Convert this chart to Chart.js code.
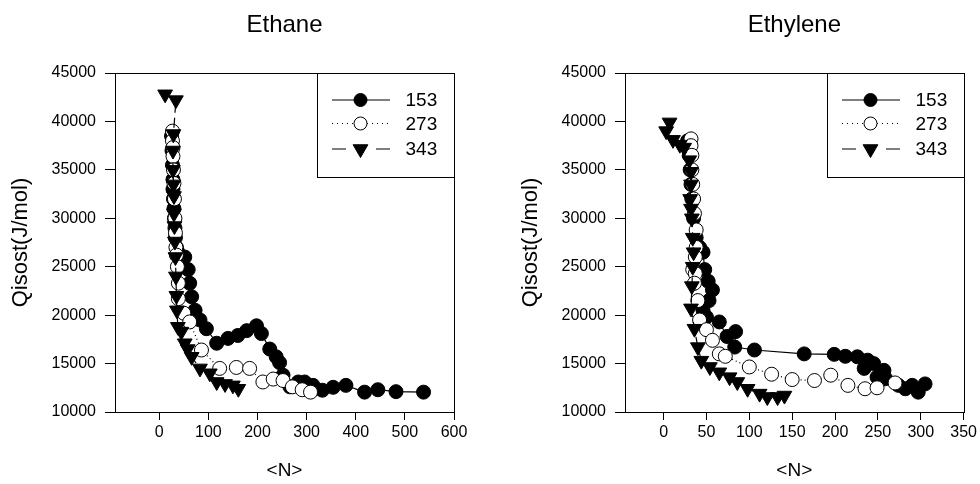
<!DOCTYPE html>
<html lang="en">
<head>
<meta charset="UTF-8">
<title>Qisost vs N</title>
<script src="https://cdn.jsdelivr.net/npm/chart.js"></script>
<style>
  body { margin: 0; background: #fff; }
  .wrap { position: relative; width: 980px; height: 484px; }
  .wrap canvas { position: absolute; top: 0; }
</style>
</head>
<body>
<div class="wrap">
  <canvas id="ethaneChart" width="490" height="484" style="left:0"></canvas>
  <canvas id="ethyleneChart" width="490" height="484" style="left:490px"></canvas>
</div>

<script>
// series labels (temperatures) and tick values
const seriesLabels = ['153', '273', '343'];
const qTicks = [10000, 15000, 20000, 25000, 30000, 35000, 40000, 45000];
const ethaneNTicks = [0, 100, 200, 300, 400, 500, 600];
const ethyleneNTicks = [0, 50, 100, 150, 200, 250, 300, 350];

// Ethane
const ethaneN153 = [25, 26, 27, 28, 28, 29, 30, 31, 32, 33, 35, 38, 52, 59, 62, 66, 73, 83, 96, 117, 140, 160, 178, 198, 208, 225, 238, 245, 252, 266, 283, 296, 313, 332, 354, 380, 418, 445, 482, 538];
const ethaneQ153 = [38500, 37000, 35500, 34000, 33000, 32000, 31000, 30000, 29000, 28000, 27000, 26500, 26000, 24700, 23300, 21900, 20500, 19500, 18600, 17100, 17600, 17900, 18400, 18900, 18100, 16500, 15700, 15100, 13800, 12600, 13100, 13100, 12750, 12250, 12550, 12750, 12050, 12300, 12100, 12050];
const ethaneN273 = [27, 27, 28, 28, 29, 30, 31, 32, 33, 34, 35, 37, 39, 39, 50, 62, 86, 123, 157, 184, 211, 232, 252, 271, 291, 308];
const ethaneQ273 = [39000, 38000, 37300, 36400, 35000, 33600, 32000, 30000, 28500, 27000, 26200, 25000, 23300, 21700, 20200, 19300, 16400, 14500, 14600, 14500, 13100, 13400, 13250, 12600, 12300, 12050];
const ethaneN343 = [12, 34, 29, 28, 28, 29, 30, 30, 31, 32, 33, 34, 35, 36, 38, 45, 52, 58, 66, 83, 103, 117, 134, 150, 161];
const ethaneQ343 = [42800, 42200, 38700, 37000, 35000, 33500, 32300, 30500, 29200, 27600, 26000, 24000, 22000, 20500, 18800, 18300, 17100, 16500, 15700, 14500, 14000, 13100, 12900, 12750, 12400];

// Ethylene
const ethyleneN153 = [28, 30, 31, 32, 33, 35, 38, 42, 46, 48, 52, 57, 53, 46, 50, 65, 74, 84, 83, 106, 164, 199, 212, 226, 238, 234, 245, 257, 249, 259, 274, 282, 290, 297, 305];
const ethyleneQ153 = [38000, 36500, 35000, 33500, 32000, 30000, 28000, 27000, 26500, 24700, 23500, 22600, 21500, 20500, 19800, 19300, 17800, 18300, 16700, 16400, 16000, 15950, 15750, 15700, 15350, 14500, 15000, 14300, 13600, 13450, 12750, 12400, 12750, 12050, 12900];
const ethyleneN273 = [32, 32, 33, 33, 34, 35, 36, 38, 38, 37, 34, 37, 36, 40, 42, 50, 57, 65, 72, 100, 126, 150, 176, 195, 215, 235, 249, 270];
const ethyleneQ273 = [38200, 37500, 36500, 35000, 33500, 32000, 30500, 28800, 27000, 26000, 24700, 24300, 23300, 21500, 19500, 18500, 17400, 16000, 15750, 14650, 13900, 13350, 13250, 13800, 12750, 12400, 12500, 13000];
const ethyleneN343 = [7, 3, 11, 19, 24, 30, 32, 32, 31, 32, 33, 34, 35, 34, 33, 32, 36, 40, 44, 54, 65, 77, 86, 98, 112, 121, 133, 141];
const ethyleneQ343 = [39900, 39000, 38100, 37600, 37300, 36000, 34800, 33500, 32000, 31000, 30000, 28000, 26500, 25000, 23000, 20700, 18600, 16700, 15300, 14650, 14100, 13600, 13100, 12400, 11900, 11550, 11550, 11700];

const FONT = "'Liberation Sans', Arial, sans-serif";

function pts(xs, ys) {
  return xs.map((x, i) => ({ x: x, y: ys[i] }));
}

// frame, title and legend box drawn on the canvas
const framePlugin = {
  id: 'frame',
  afterDatasetsDraw(chart, args, opts) {
    const ctx = chart.ctx;
    const a = chart.chartArea;
    ctx.save();
    ctx.strokeStyle = '#000';
    ctx.lineWidth = 1;
    ctx.strokeRect(Math.round(a.left) + 0.5, Math.round(a.top) + 0.5, Math.round(a.right - a.left), Math.round(a.bottom - a.top));

    // title
    ctx.fillStyle = '#000';
    ctx.font = '24px ' + FONT;
    ctx.textAlign = 'center';
    ctx.textBaseline = 'middle';
    ctx.fillText(opts.title, (a.left + a.right) / 2, 25);

    // legend
    const bw = 137, bh = 104;
    const bx = Math.round(a.right) - bw + 0.5;
    const by = Math.round(a.top) + 0.5;
    ctx.fillStyle = '#fff';
    ctx.fillRect(bx, by, bw, bh);
    ctx.strokeRect(bx, by, bw, bh);
    const rows = [26.5, 50, 75.5];
    chart.data.datasets.forEach((ds, i) => {
      const y = by + rows[i];
      const mx = bx + 43;
      ctx.strokeStyle = '#000';
      ctx.lineWidth = 1.2;
      if (ds.borderDash && ds.borderDash[0] > 5) {
        ctx.setLineDash([]);
        ctx.beginPath();
        ctx.moveTo(bx + 14.5, y); ctx.lineTo(bx + 28.5, y);
        ctx.moveTo(bx + 58.5, y); ctx.lineTo(bx + 72.5, y);
        ctx.stroke();
      } else {
        ctx.setLineDash(ds.borderDash && ds.borderDash.length ? [1, 4] : []);
        ctx.beginPath();
        ctx.moveTo(bx + 14.5, y); ctx.lineTo(bx + 72.5, y);
        ctx.stroke();
      }
      ctx.setLineDash([]);
      ctx.fillStyle = ds.pointBackgroundColor;
      ctx.lineWidth = 1;
      ctx.beginPath();
      if (ds.pointStyle === 'triangle') {
        const r = 8.5;
        ctx.moveTo(mx - r * 0.866, y - r * 0.5);
        ctx.lineTo(mx + r * 0.866, y - r * 0.5);
        ctx.lineTo(mx, y + r);
        ctx.closePath();
      } else {
        ctx.arc(mx, y, 6.5, 0, Math.PI * 2);
      }
      ctx.fill();
      ctx.stroke();
      ctx.fillStyle = '#000';
      ctx.font = '19px ' + FONT;
      ctx.textAlign = 'left';
      ctx.fillText(seriesLabels[i], bx + 88, y + 1);
    });
    ctx.restore();
  }
};

function makeChart(id, title, series, xMin, xMax, xTicks, yWidth, yTitlePad, rightPad) {
  const styles = [
    { borderDash: [], pointStyle: 'circle', pointRadius: 7, pointBackgroundColor: '#000', pointRotation: 0, order: 2 },
    { borderDash: [1, 3], pointStyle: 'circle', pointRadius: 7, pointBackgroundColor: '#fff', pointRotation: 0, order: 1 },
    { borderDash: [10, 5], pointStyle: 'triangle', pointRadius: 8.5, pointBackgroundColor: '#000', pointRotation: 180, order: 0 }
  ];
  const datasets = series.map((s, i) => Object.assign({
    label: seriesLabels[i],
    data: pts(s[0], s[1]),
    showLine: true,
    borderColor: '#000',
    borderWidth: 1.2,
    pointBorderColor: '#000',
    pointBorderWidth: 1,
    tension: 0
  }, styles[i]));

  return new Chart(document.getElementById(id), {
    type: 'scatter',
    data: { datasets: datasets },
    plugins: [framePlugin],
    options: {
      responsive: false,
      animation: false,
      layout: { padding: { top: 73, right: rightPad, left: 0, bottom: 0 } },
      plugins: {
        legend: { display: false },
        tooltip: { enabled: false },
        frame: { title: title }
      },
      scales: {
        x: {
          type: 'linear',
          min: xMin,
          max: xMax,
          afterBuildTicks: s => { s.ticks = xTicks.map(v => ({ value: v })); },
          afterFit: s => { s.height = 72; },
          border: { color: '#000', width: 1 },
          grid: { drawOnChartArea: false, drawTicks: true, tickLength: 8, color: '#000' },
          ticks: { color: '#000', font: { family: FONT, size: 16 }, padding: 3, maxRotation: 0, callback: v => String(v) },
          title: { display: true, text: '<N>', color: '#000', font: { family: FONT, size: 19 }, padding: { top: 0, bottom: 2 } }
        },
        y: {
          min: 10000,
          max: 45000,
          afterBuildTicks: s => { s.ticks = qTicks.map(v => ({ value: v })); },
          afterFit: s => { s.width = yWidth; },
          border: { color: '#000', width: 1 },
          grid: { drawOnChartArea: false, drawTicks: true, tickLength: 10, color: '#000' },
          ticks: { color: '#000', font: { family: FONT, size: 16 }, padding: 9, callback: v => String(v) },
          title: { display: true, text: 'Qisost(J/mol)', color: '#000', font: { family: FONT, size: 22 }, padding: { top: yTitlePad, bottom: 0 } }
        }
      }
    }
  });
}

makeChart('ethaneChart', 'Ethane',
  [[ethaneN153, ethaneQ153], [ethaneN273, ethaneQ273], [ethaneN343, ethaneQ343]],
  -90, 600, ethaneNTicks, 115, 8, 36);

makeChart('ethyleneChart', 'Ethylene',
  [[ethyleneN153, ethyleneQ153], [ethyleneN273, ethyleneQ273], [ethyleneN343, ethyleneQ343]],
  -45, 350, ethyleneNTicks, 135, 28, 15);
</script>
</body>
</html>
